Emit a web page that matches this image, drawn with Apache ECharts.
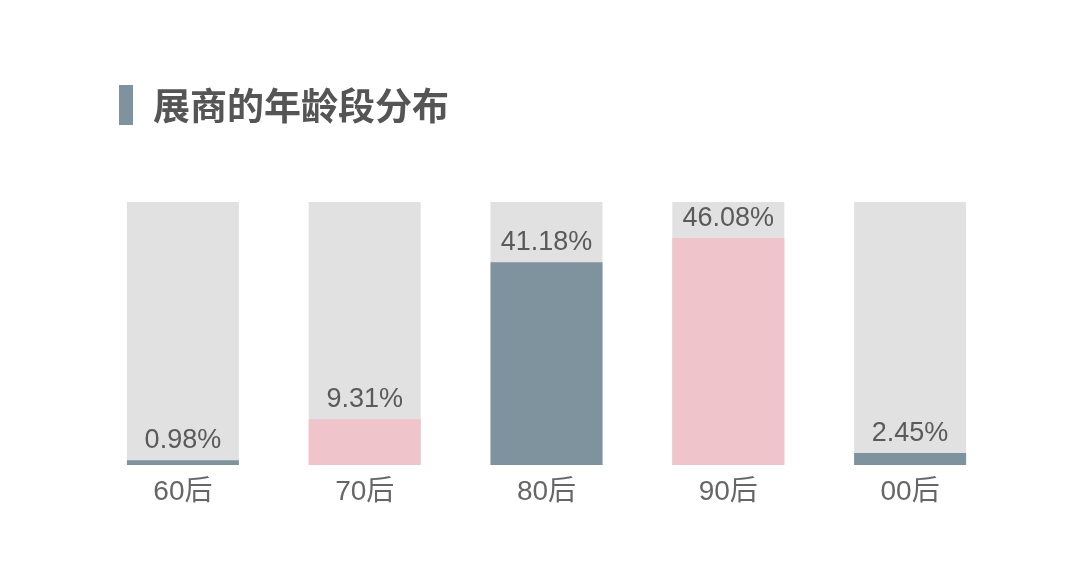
<!DOCTYPE html>
<html lang="zh">
<head>
    <meta charset="UTF-8">
    <title>展商的年龄段分布</title>
    <script src="https://cdn.jsdelivr.net/npm/echarts@6/dist/echarts.min.js"></script>
    <style>
        html, body { margin: 0; padding: 0; background: #fff; }
        #chart { width: 1080px; height: 567px; }
    </style>
</head>
<body>
    <div id="chart"></div>
    <script>
        // 数据
        var categories = ['60后', '70后', '80后', '90后', '00后'];
        var shares = [0.98, 9.31, 41.18, 46.08, 2.45];

        var blue = '#7f939e';
        var pink = '#f0c4cb';
        var barColors = [blue, pink, blue, pink, blue];
        var font = '"Liberation Sans", "Noto Sans CJK SC", sans-serif';

        var chart = echarts.init(document.getElementById('chart'));

        var option = {
            backgroundColor: '#fff',
            title: {
                text: '展商的年龄段分布',
                left: 148,
                top: 82,
                textStyle: {
                    fontFamily: 'Noto Sans CJK SC',
                    fontSize: 37,
                    fontWeight: 'bold',
                    color: '#555'
                }
            },
            graphic: [{
                type: 'rect',
                left: 119,
                top: 85,
                shape: { width: 14, height: 40 },
                style: { fill: blue }
            }],
            grid: { left: 92, right: 79, top: 202, bottom: 102 },
            xAxis: {
                type: 'category',
                data: categories,
                axisLine: { show: false },
                axisTick: { show: false },
                axisLabel: {
                    margin: 13,
                    fontFamily: font,
                    fontSize: 28,
                    color: '#666'
                }
            },
            yAxis: {
                type: 'value',
                min: 0,
                max: 53.4,
                show: false
            },
            series: [{
                type: 'bar',
                barWidth: 112,
                showBackground: true,
                backgroundStyle: { color: '#e1e1e1' },
                data: shares.map(function (v, i) {
                    return { value: v, itemStyle: { color: barColors[i] } };
                }),
                label: {
                    show: true,
                    position: 'top',
                    distance: 6,
                    formatter: function (p) { return p.value.toFixed(2) + '%'; },
                    fontFamily: font,
                    fontSize: 27,
                    color: '#5a5a5a'
                }
            }]
        };

        chart.setOption(option);
    </script>
</body>
</html>
